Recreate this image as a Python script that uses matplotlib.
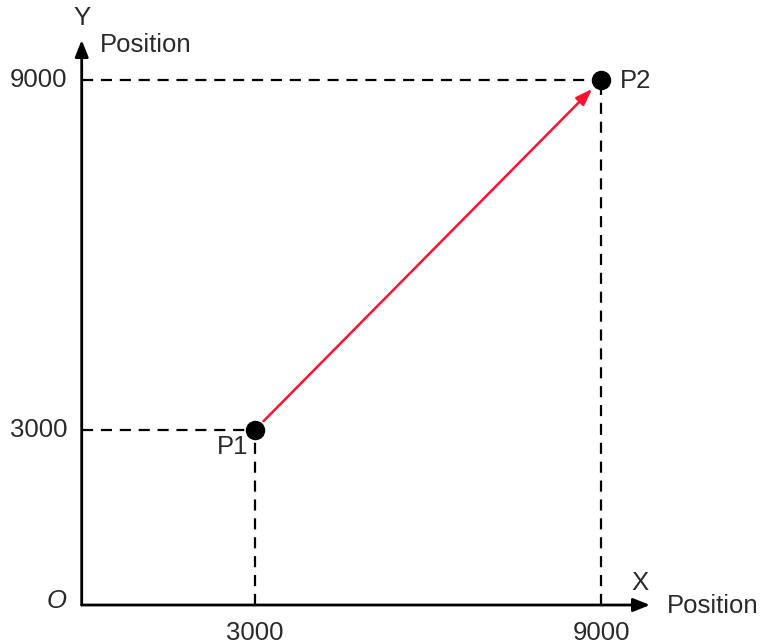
import matplotlib.pyplot as plt

plt.rcParams['font.family'] = ['Liberation Sans', 'DejaVu Sans']

# data
point_names = ["P1", "P2"]
px = [3000, 9000]
py = [3000, 9000]
tick_vals = [3000, 9000]
tick_labels = ["3000", "9000"]

W, H = 765, 644
fig = plt.figure(figsize=(W / 100, H / 100), dpi=100)
ax = fig.add_axes([0, 0, 1, 1])
ax.axis("off")

# pixel geometry of the reference
ox, oy = 81.7, 605.0
sx = (601 - ox) / 9000
sy = (oy - 80) / 9000
ax.set_xlim(-ox / sx, (W - ox) / sx)
ax.set_ylim(-(H - oy) / sy, oy / sy)

def px2ax(x, y):
    return x / W, 1 - y / H

# axes with arrows
ax.annotate("", xy=((650 - ox) / sx, 0), xytext=(0, 0),
            arrowprops=dict(arrowstyle="-|>,head_length=1.0,head_width=0.4",
                            color="black", lw=2, shrinkA=0, shrinkB=0))
ax.annotate("", xy=(0, (oy - 40) / sy), xytext=(0, 0),
            arrowprops=dict(arrowstyle="-|>,head_length=1.0,head_width=0.4",
                            color="black", lw=2, shrinkA=0, shrinkB=0))

# dashed guides
for x, y in zip(px, py):
    ax.plot([0, x], [y, y], color="black", lw=1.6, ls=(0, (5, 3.5)))
    ax.plot([x, x], [0, y], color="black", lw=1.6, ls=(0, (5, 3.5)))

# red move arrow
ax.annotate("", xy=(px[1], py[1]), xytext=(px[0], py[0]),
            arrowprops=dict(arrowstyle="-|>,head_length=1.0,head_width=0.35",
                            color="#ff1030", lw=1.8, shrinkA=9, shrinkB=9))

ax.plot(px, py, "o", color="black", markersize=13, zorder=5)

fs = 18.5
tc = "#2a2a2a"
# tick labels
for v, lab in zip(tick_vals, tick_labels):
    ax.text(-14 / sx, v, lab, ha="right", va="center", fontsize=fs, color=tc)
    ax.text(v, -28 / sy, lab, ha="center", va="center", fontsize=fs, color=tc)

ax.text(*px2ax(57, 601), "O", transform=ax.transAxes, ha="center", va="center",
        fontsize=fs, style="italic", color=tc)
ax.text(*px2ax(82, 18), "Y", transform=ax.transAxes, ha="center", va="center",
        fontsize=fs, color=tc)
ax.text(*px2ax(100, 45), "Position", transform=ax.transAxes, ha="left", va="center",
        fontsize=fs, color=tc)
ax.text(*px2ax(640, 583), "X", transform=ax.transAxes, ha="center", va="center",
        fontsize=fs, color=tc)
ax.text(*px2ax(667, 606), "Position", transform=ax.transAxes, ha="left", va="center",
        fontsize=fs, color=tc)
ax.text(*px2ax(233, 447), point_names[0], transform=ax.transAxes, ha="center",
        va="center", fontsize=fs, color=tc)
ax.text(*px2ax(620, 81), point_names[1], transform=ax.transAxes, ha="left",
        va="center", fontsize=fs, color=tc)

fig.savefig("out.png", dpi=100)
